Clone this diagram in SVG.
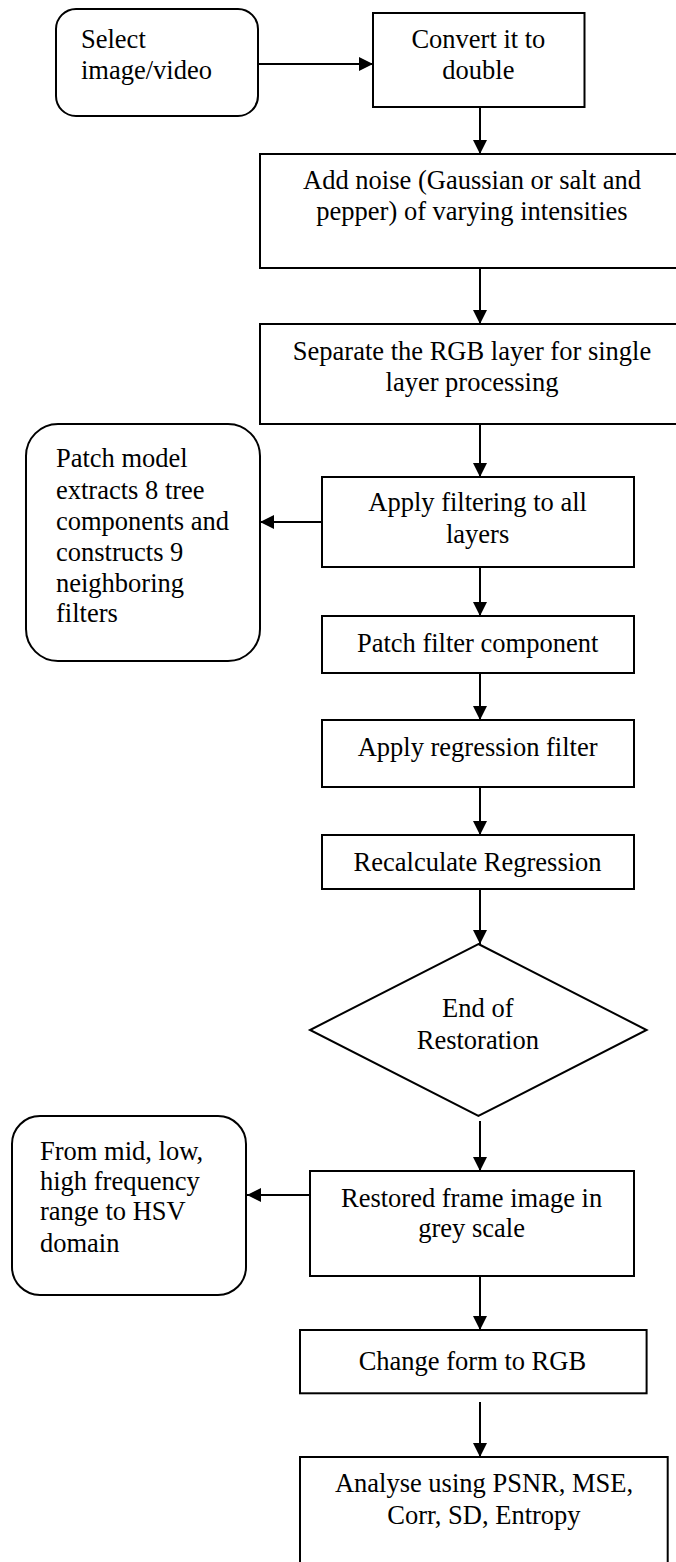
<svg xmlns="http://www.w3.org/2000/svg" width="676" height="1562" viewBox="0 0 676 1562">
<style>
.b{fill:#fff;stroke:#000;stroke-width:2}
.t{font-family:"Liberation Serif","Times New Roman",serif;font-size:26.5px;fill:#000}
.c{text-anchor:middle}
.e{fill:none;stroke:#000;stroke-width:2}
</style>
<defs>
<marker id="ah" markerUnits="userSpaceOnUse" viewBox="0 0 14 14" refX="14" refY="7" markerWidth="14" markerHeight="14" orient="auto">
<path d="M0,0 L14,7 L0,14 z" fill="#000"/>
</marker>
</defs>
<rect width="676" height="1562" fill="#fff"/>
<g id="connectors">
<line class="e" x1="258" y1="64" x2="373" y2="64" marker-end="url(#ah)"/>
<line class="e" x1="480" y1="107" x2="480" y2="154" marker-end="url(#ah)"/>
<line class="e" x1="480" y1="268" x2="480" y2="324" marker-end="url(#ah)"/>
<line class="e" x1="480" y1="424" x2="480" y2="477" marker-end="url(#ah)"/>
<line class="e" x1="322" y1="522" x2="260" y2="522" marker-end="url(#ah)"/>
<line class="e" x1="480" y1="567" x2="480" y2="616" marker-end="url(#ah)"/>
<line class="e" x1="480" y1="673" x2="480" y2="720" marker-end="url(#ah)"/>
<line class="e" x1="480" y1="787" x2="480" y2="835" marker-end="url(#ah)"/>
<line class="e" x1="480" y1="889" x2="480" y2="944" marker-end="url(#ah)"/>
<line class="e" x1="480" y1="1121" x2="480" y2="1171" marker-end="url(#ah)"/>
<line class="e" x1="310" y1="1195" x2="247" y2="1195" marker-end="url(#ah)"/>
<line class="e" x1="480" y1="1276" x2="480" y2="1330" marker-end="url(#ah)"/>
<line class="e" x1="480" y1="1402" x2="480" y2="1457" marker-end="url(#ah)"/>
</g>
<g id="select">
<rect class="b" x="56" y="9" width="202" height="107" rx="20"/>
<text class="t" x="81" y="48">Select</text>
<text class="t" x="81" y="79">image/video</text>
</g>
<g id="convert">
<rect class="b" x="373" y="13" width="211.5" height="94"/>
<text class="t c" x="478.4" y="48">Convert it to</text>
<text class="t c" x="478.4" y="79">double</text>
</g>
<g id="addnoise">
<rect class="b" x="260" y="154" width="420" height="114"/>
<text class="t c" x="472" y="188.5">Add noise (Gaussian or salt and</text>
<text class="t c" x="472" y="220">pepper) of varying intensities</text>
</g>
<g id="separate">
<rect class="b" x="260" y="324" width="420" height="100"/>
<text class="t c" x="472" y="359.5">Separate the RGB layer for single</text>
<text class="t c" x="472" y="391">layer processing</text>
</g>
<g id="patchmodel">
<rect class="b" x="26" y="424" width="234" height="237" rx="32"/>
<text class="t" x="56" y="467">Patch model</text>
<text class="t" x="56" y="499">extracts 8 tree</text>
<text class="t" x="56" y="530">components and</text>
<text class="t" x="56" y="561">constructs 9</text>
<text class="t" x="56" y="592">neighboring</text>
<text class="t" x="56" y="622">filters</text>
</g>
<g id="applyfiltering">
<rect class="b" x="322" y="477" width="312" height="90"/>
<text class="t c" x="477.6" y="511">Apply filtering to all</text>
<text class="t c" x="477.6" y="543">layers</text>
</g>
<g id="patchfilter">
<rect class="b" x="322" y="616" width="312" height="57"/>
<text class="t c" x="477.6" y="652">Patch filter component</text>
</g>
<g id="applyregression">
<rect class="b" x="322" y="720" width="312" height="67"/>
<text class="t c" x="477.6" y="756">Apply regression filter</text>
</g>
<g id="recalculate">
<rect class="b" x="322" y="835" width="312" height="54"/>
<text class="t c" x="477.6" y="871">Recalculate Regression</text>
</g>
<g id="endofrestoration">
<polygon class="b" points="478.4,944 646.6,1030 478.4,1116 310,1030"/>
<text class="t c" x="477.8" y="1017">End of</text>
<text class="t c" x="477.8" y="1048.5">Restoration</text>
</g>
<g id="frommid">
<rect class="b" x="12" y="1116" width="234" height="179" rx="28"/>
<text class="t" x="40" y="1159.5">From mid, low,</text>
<text class="t" x="40" y="1189.5">high frequency</text>
<text class="t" x="40" y="1220">range to HSV</text>
<text class="t" x="40" y="1252">domain</text>
</g>
<g id="restored">
<rect class="b" x="310" y="1171" width="324" height="105"/>
<text class="t c" x="471.6" y="1207">Restored frame image in</text>
<text class="t c" x="471.6" y="1237">grey scale</text>
</g>
<g id="changeform">
<rect class="b" x="300" y="1330" width="346.6" height="63.3"/>
<text class="t c" x="472.4" y="1369.5">Change form to RGB</text>
</g>
<g id="analyse">
<rect class="b" x="300" y="1457" width="367.7" height="120"/>
<text class="t c" x="484" y="1492">Analyse using PSNR, MSE,</text>
<text class="t c" x="484" y="1523.5">Corr, SD, Entropy</text>
</g>
</svg>
